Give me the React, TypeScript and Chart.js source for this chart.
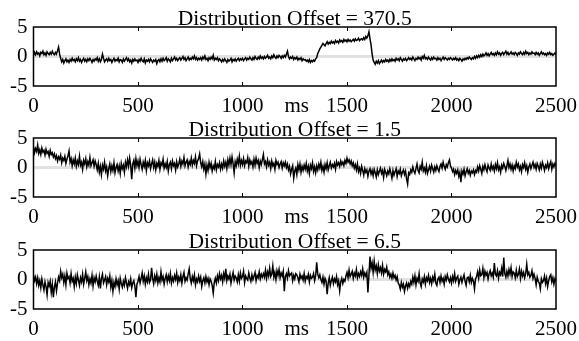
import React, { useEffect, useRef } from "react";
import { Chart, registerables } from "chart.js";

Chart.register(...registerables);

// ---- data ----
const X_TICKS = [0, 500, 1000, 1500, 2000, 2500];
const Y_TICKS = [-5, 0, 5];
const X_UNIT = "ms";
const TITLES = [
  "Distribution Offset = 370.5",
  "Distribution Offset = 1.5",
  "Distribution Offset = 6.5",
];
// sample spacing (ms) of the series below
const STEP_MS = 5;

const SERIES_OFFSET_370 = [
  0.2, 0.7, 0.3, 0.8, 0.4, 0.6, 0.1, 0.7, 0.5, 0.9, 0.3, 0.6, 0.2, 0.8, 0.5, 0.3, 0.7, 0.4, 0.9, 0.5,
  0.3, 0.7, 0.4, 1.0, 1.6, 0.4, -0.3, -0.9, -0.5, -1.1, -0.7, -0.4, -0.9, -0.6, -1.0, -0.5, -0.8, -0.3, -0.7, -0.5,
  -0.9, -0.4, -0.7, -0.2, -0.8, -0.5, -1.0, -0.6, -0.3, -0.8, -0.5, -0.9, -0.4, -0.7, -0.3, -0.6, -1.0, -0.5, -0.8, -0.4,
  -0.6, -0.2, -0.8, -0.4, -0.9, -0.5, 0.4, -0.3, -0.9, -0.6, -0.4, -0.8, -0.3, -0.7, -0.5, -1.0, -0.6, -0.3, -0.8, -0.5,
  -0.7, -0.3, -0.9, -0.5, -0.6, -1.0, -0.4, -0.8, -0.5, -0.2, -0.7, -0.4, -0.9, -0.6, -1.1, -0.5, -0.8, -0.4, -0.7, -0.6,
  -1.0, -0.5, -0.8, -0.3, -0.7, -0.9, -0.4, -1.1, -0.6, -0.8, -0.5, -0.9, -0.4, -0.7, -1.0, -0.6, -0.8, -0.5, -1.2, -0.7,
  -0.5, -0.9, -0.4, -0.8, -0.3, -0.7, -0.5, -0.2, -0.8, -0.4, -0.6, -0.9, -0.3, -0.7, -0.4, -0.1, -0.6, -0.3, -0.7, -0.4,
  -0.2, -0.6, -0.3, 0.0, -0.5, -0.2, -0.7, -0.4, -0.1, -0.6, -0.3, -0.5, -0.1, -0.4, 0.1, -0.5, -0.2, -0.6, -0.3, -0.5,
  -0.2, -0.6, -0.1, -0.4, 0.1, -0.5, -0.3, -0.7, -0.2, -0.5, -0.1, -0.4, 0.2, -0.6, -0.3, -0.5, -0.2, -0.7, -0.4, -0.6,
  -0.9, -0.5, -0.8, -0.4, -0.7, -1.0, -0.5, -0.8, -0.6, -0.3, -0.9, -0.5, -0.7, -0.4, -0.8, -0.5, -0.3, -0.7, -0.4, -0.6,
  -0.3, -0.7, -0.4, -0.2, -0.6, -0.3, -0.5, -0.1, -0.4, -0.6, -0.2, -0.5, 0.0, -0.3, -0.5, -0.1, -0.4, 0.1, -0.3, -0.1,
  -0.4, 0.0, -0.3, -0.1, 0.2, -0.3, -0.1, -0.4, 0.1, -0.2, 0.3, -0.1, -0.3, 0.1, -0.2, 0.2, 0.0, -0.3, 0.1, -0.2,
  0.2, -0.1, 0.4, 0.9, 0.0, -0.4, -0.1, -0.3, 0.0, -0.5, -0.2, -0.4, -0.1, -0.6, -0.3, -0.5, -0.2, -0.7, -0.4, -0.6,
  -0.5, -0.8, -0.6, -0.9, -0.5, -1.0, -0.7, -0.9, -0.6, -0.8, -0.4, -0.2, 0.5, 0.9, 1.3, 1.6, 1.9, 2.2, 2.0, 1.8,
  2.2, 2.5, 2.1, 2.4, 2.2, 2.6, 2.3, 2.5, 2.2, 2.7, 2.4, 2.6, 2.3, 2.8, 2.5, 2.7, 2.4, 2.9, 2.6, 2.8,
  2.5, 2.9, 2.6, 2.8, 2.5, 2.7, 2.9, 2.6, 3.0, 2.7, 2.8, 3.1, 2.7, 2.9, 3.0, 2.8, 3.2, 2.9, 3.4, 3.1,
  3.5, 4.2, 3.0, 2.0, 0.5, -0.6, -1.0, -1.3, -0.8, -1.1, -0.7, -1.2, -0.9, -0.6, -1.0, -0.7, -0.9, -0.5, -0.8, -0.6,
  -0.9, -0.5, -0.8, -0.4, -0.7, -0.5, -0.8, -0.3, -0.6, -0.4, -0.7, -0.2, -0.5, -0.8, -0.4, -0.6, -0.3, -0.7, -0.5, -0.2,
  -0.5, -0.3, -0.6, -0.1, -0.4, -0.7, -0.3, -0.5, -0.1, -0.4, -0.2, -0.6, 0.0, -0.3, 0.2, -0.4, -0.2, -0.5, -0.1, -0.4,
  -0.6, -0.2, -0.5, -0.1, -0.4, -0.3, -0.6, -0.2, -0.5, -0.3, -0.7, -0.4, -0.1, -0.5, -0.2, -0.4, -0.6, -0.3, -0.5, -0.2,
  -0.4, -0.6, -0.3, -0.5, -0.2, -0.6, -0.4, -0.7, -0.3, -0.5, -0.8, -0.4, -0.6, -0.3, -0.5, -0.2, -0.4, -0.1, -0.3, -0.5,
  -0.2, -0.4, 0.0, -0.3, 0.1, -0.2, 0.2, -0.1, 0.3, 0.0, 0.4, 0.1, 0.3, 0.6, 0.2, 0.5, 0.1, 0.4, 0.7, 0.3,
  0.5, 0.2, 0.6, 0.3, 0.8, 0.4, 0.6, 0.2, 0.5, 0.7, 0.3, 0.6, 0.9, 0.4, 0.7, 0.3, 0.5, 0.8, 0.4, 0.6,
  0.3, 0.7, 0.5, 0.2, 0.6, 0.4, 0.8, 0.5, 0.3, 0.7, 0.4, 0.9, 0.5, 0.7, 0.3, 0.6, 0.4, 0.8, 0.5, 0.6,
  0.3, 0.7, 0.4, 0.6, 0.2, 0.5, 0.8, 0.4, 0.6, 0.3, 0.5, 0.2, 0.6, 0.4, 0.7, 0.3, 0.5, 0.2, 0.4, 0.6,
  0.3,
];

const SERIES_OFFSET_1_5 = [
  3.6, 2.5, 3.2, 2.7, 3.8, 2.4, 3.0, 2.2, 3.3, 2.6, 2.9, 2.1, 3.1, 2.4, 2.7, 1.9, 2.9, 2.2, 2.5, 1.8,
  2.3, 1.5, 2.0, 1.1, 1.8, 1.4, 2.1, 0.8, 1.6, 1.2, 1.9, 0.7, 1.4, 2.0, 2.8, 0.9, 1.5, 0.3, 1.3, 0.6,
  1.6, 0.2, 1.1, 0.5, 1.9, 0.4, 0.9, -0.3, 1.2, 0.6, 1.5, 0.1, 1.0, 0.4, 1.7, 0.3, 0.8, 1.3, 0.2, 1.1,
  0.5, -0.4, 0.7, -0.8, 0.2, -1.2, 0.4, -0.3, 0.9, -0.6, 0.1, -1.4, -0.2, 0.6, -0.7, 0.3, -0.5, 0.8, -0.9, 0.0,
  0.5, -0.6, 0.3, -1.0, 0.7, -0.2, 0.4, -0.8, 0.9, 0.1, 1.3, 0.2, 1.6, 0.4, -2.0, 0.6, 1.2, -0.1, 1.5, 0.3,
  1.1, 0.0, 1.4, 0.5, -0.3, 0.9, 0.2, 1.2, -0.5, 0.8, 0.3, 1.1, -0.2, 0.6, 1.3, 0.0, 0.9, -0.4, 0.7, 0.2,
  1.2, -0.3, 0.8, 0.4, 1.4, -0.1, 0.6, 0.0, 1.0, -0.6, 0.5, 0.9, -0.2, 1.1, 0.3, 0.7, -0.4, 1.0, 0.1, 0.6,
  1.4, 0.2, 1.1, 0.6, 1.7, 0.3, 0.9, 1.3, 0.1, 1.0, 0.5, 1.6, 0.4, 1.2, 0.7, 1.8, 0.3, 1.1, 1.5, 2.3,
  0.8, 0.1, 1.0, -0.3, 0.6, -1.1, 0.4, -0.5, 0.9, 0.0, 0.7, -0.6, 0.3, -0.2, 1.0, -0.4, 0.5, 0.1, 0.8, -0.3,
  0.6, -0.1, 1.1, 0.2, 0.9, -0.2, 1.3, 0.4, 1.6, 0.5, 1.8, 0.7, -0.9, 1.0, 0.3, 1.4, 0.6, 1.9, 0.4, 1.2,
  0.5, 1.5, 0.3, 1.1, 0.8, 1.7, 0.2, 1.3, 0.6, 1.0, 0.1, 1.4, 0.4, 1.6, 0.7, 1.2, 0.0, 1.1, 0.5, 1.3,
  2.2, 0.6, 1.0, 0.1, 1.3, 0.4, 0.9, -0.2, 1.1, 0.3, 0.7, -0.3, 1.2, 0.5, 0.9, 0.0, 0.6, 1.0, -0.1, 0.8,
  0.3, 0.9, 0.0, 0.6, -0.4, 0.2, -1.1, -0.3, 0.3, -1.8, -0.6, -0.1, -1.2, 0.5, -0.4, 0.6, -0.8, 0.2, -0.5, 0.4,
  -0.3, 0.7, -0.6, 0.2, -1.0, 0.4, -0.2, 0.8, -0.7, 0.1, -0.9, 0.3, -0.4, 0.6, -0.1, 0.9, -0.5, 0.2, -0.8, 0.5,
  -0.2, 0.8, -0.4, 0.3, 0.9, -0.1, 0.5, 0.1, 0.7, -0.3, 1.0, 0.4, 0.8, 0.2, 1.1, 0.5, 0.9, 0.3, 1.2, 0.7,
  1.6, 0.9, 1.3, 0.6, 1.1, 0.3, 0.8, -0.1, 0.5, -0.4, 0.6, -0.7, -0.1, -1.0, 0.2, -0.5, -1.3, -0.2, -0.8, -0.4,
  -1.5, -0.6, -0.2, -1.1, -0.5, -1.4, -0.3, -0.9, -1.6, -0.4, -1.2, -0.6, -0.1, -1.0, -0.5, -1.7, -0.3, -0.8, -1.4, -0.6,
  -1.1, -0.2, -0.9, -1.8, -0.5, -1.3, -0.7, -0.2, -1.5, -0.6, -1.0, -0.3, -1.4, -0.8, -0.4, -1.2, -0.6, -1.9, -2.8, -0.9,
  -1.2, -0.4, -0.8, 0.1, -0.6, -1.0, -0.2, 0.6, -0.5, -0.9, 0.2, -0.3, 0.9, -0.6, -0.1, -0.8, 0.3, -1.0, -0.4, 0.2,
  -0.6, 0.4, -0.2, -0.8, 0.1, -0.5, 0.3, -0.3, -0.7, 0.2, 0.6, -0.1, 0.9, 0.2, -0.3, 0.5, 0.1, 0.8, 1.3, 0.3,
  -0.1, -0.7, -0.3, -1.2, -0.5, -1.0, -0.4, -1.5, -0.8, -2.5, -0.6, -1.1, -0.3, -1.4, -0.7, -0.2, -1.0, -0.5, -1.3, -0.6,
  -0.9, -0.4, -1.2, -0.5, -0.8, 0.1, -0.6, 0.3, -0.3, -1.0, 0.2, -0.4, 0.5, -0.2, -0.7, 0.4, -0.1, -0.5, 0.6, -0.3,
  0.2, -0.6, 0.5, -0.2, 0.8, -0.4, 0.1, -0.8, 0.4, -0.1, 0.7, 0.2, -0.5, 0.3, 1.2, 0.0, 0.6, -0.3, 0.4, -0.6,
  0.3, -0.2, 0.9, 0.1, 0.6, -0.4, 0.2, -0.7, 0.5, 0.0, 0.8, -0.3, 0.3, -0.8, 0.1, 0.6, -0.2, 0.4, 0.9, 0.0,
  0.5, -0.3, 0.7, 0.2, -0.4, 0.6, -0.1, 0.9, 0.3, -0.5, 0.4, 0.0, 0.8, -0.2, 0.5, 1.0, -0.3, 0.6, 0.1, 0.7,
  0.3,
];

const SERIES_OFFSET_6_5 = [
  0.8, -0.2, 0.4, -0.7, 0.3, -1.0, -0.2, -1.4, 0.1, -0.9, -1.8, -0.4, -1.2, -2.6, -0.5, -1.1, -0.3, -2.2, -0.8, -3.0,
  -1.3, -0.4, -1.9, -0.6, 0.4, -0.2, 1.4, 0.3, 0.9, -0.5, 0.6, -0.9, 1.1, 0.2, 0.5, -0.6, 1.0, -0.3, 0.2, -1.2,
  0.4, -0.7, 0.8, -0.1, -1.0, 0.3, -0.4, 0.9, -0.8, 0.2, 1.3, -0.2, 0.5, -0.9, 0.1, -0.6, 0.7, -1.1, 0.3, -0.4,
  0.6, -0.3, -1.0, 0.4, -1.5, 0.2, 0.9, -0.6, -0.1, 0.5, -0.9, 0.2, -0.4, 0.6, -1.3, -0.2, -2.0, -0.5, -1.2, 0.1,
  -0.9, -0.2, -1.6, 0.2, -0.7, -1.3, -0.3, -1.0, 0.3, -0.6, -1.5, -0.4, -0.9, 0.1, -1.4, -0.6, -0.2, -1.1, -3.0, -0.8,
  -0.3, 0.5, -0.6, 0.2, 1.1, -0.3, 0.6, -0.8, 0.3, -0.4, 0.9, -0.5, -0.1, 2.0, 0.2, -0.7, 0.6, -0.2, 0.9, -0.6,
  0.3, -0.4, 1.3, -0.1, 0.5, -0.8, 0.2, 0.8, -0.4, 0.6, -0.2, 1.0, -0.6, 0.3, -0.3, 0.7, 0.0, 1.1, -0.5, 0.4,
  -0.2, 0.8, -0.6, 0.5, 1.2, -0.3, 0.3, -0.1, 0.9, 1.8, 0.2, -0.6, 0.5, -0.2, 0.8, -0.9, 0.1, -0.4, 0.6, -0.3,
  0.4, -1.2, -0.2, 0.3, -0.6, 0.5, -0.4, 0.2, -0.9, 0.1, -0.3, -1.0, -2.3, -0.5, 0.2, -0.6, 0.6, -0.2, 1.0, 0.1,
  0.7, -0.4, 1.0, 0.2, 1.8, -0.2, 0.6, 0.1, 0.9, -0.6, 0.4, 1.2, -0.1, 0.6, 0.3, -0.4, 0.8, -0.3, 1.1, 0.2,
  0.5, 1.4, -0.5, 0.6, 0.2, -0.1, 1.1, 0.3, -0.3, 0.8, 0.0, 0.6, 1.2, -0.2, 0.7, 0.3, 1.3, 0.1, 0.9, 0.4,
  1.0, 0.4, 1.6, 0.2, 1.3, 0.6, 1.9, 0.5, 0.9, 2.3, 0.4, 1.2, 0.0, 1.5, 0.7, 1.7, 0.3, 1.1, 0.6, 1.4,
  -2.0, 0.5, 1.0, 0.2, 1.5, 0.6, 0.9, 1.1, -0.2, 0.7, 0.1, 1.0, 0.8, 0.3, -0.4, 0.9, 0.2, 0.6, -0.1, 1.0,
  -0.3, 0.5, 0.2, 0.9, -0.4, 0.7, 0.2, 0.4, 1.0, -0.2, 0.6, 2.9, 0.9, 0.3, 0.8, 0.0, -0.5, 0.4, -0.8, 0.2,
  -0.3, -2.5, -0.6, 0.3, -1.0, -0.2, 0.4, -0.7, 0.1, -0.4, 0.5, -0.9, -0.2, -1.9, -0.4, 0.2, -0.7, 0.0, -0.3, 0.6,
  1.2, 0.3, 1.6, 0.5, 0.9, 1.4, 0.2, 1.1, 0.6, 1.7, 0.3, 1.0, 0.5, 1.3, 0.7, 1.8, 0.4, 1.1, 0.6, 1.2,
  -2.2, 0.8, 3.9, 1.9, 2.8, 1.2, 3.1, 1.6, 2.3, 1.0, 2.5, 1.4, 2.0, 1.1, 2.4, 0.9, 1.7, 1.3, 2.1, 0.8,
  1.3, 0.4, 0.9, 0.2, 1.1, 0.3, 0.7, -0.1, 0.5, -0.6, -0.9, -1.6, -0.5, -1.3, -0.8, -2.0, -1.1, -0.6, -1.5, -0.7,
  -1.2, -0.3, -0.8, 0.4, -0.5, 0.6, -0.9, 0.2, -0.3, 1.0, -0.6, -1.2, 0.1, -0.4, 0.5, -0.8, 0.3, -0.2, 0.7, -0.5,
  0.2, -0.7, 0.4, -0.2, 0.9, -0.6, -1.0, 0.1, 0.4, -0.5, 0.6, -0.3, 0.2, -0.8, 0.5, -0.1, 0.8, 0.1, -0.4, 0.3,
  -0.6, 0.5, -0.2, 1.0, -0.3, 0.3, 0.6, -0.8, -0.1, 0.4, -0.5, 0.2, 0.8, -0.3, -1.0, 0.3, 0.4, -0.4, 0.7, -0.5,
  0.2, -0.3, -1.6, 0.1, 0.5, 1.3, 0.2, 1.6, 0.6, 0.8, 1.9, 0.3, 1.4, 0.7, 1.2, 0.1, 1.0, 1.5, 0.6, 1.1,
  0.4, 2.8, 0.9, 0.6, 1.5, 0.2, 1.2, 0.8, 1.9, 0.5, 3.7, 1.0, 0.4, 1.4, 0.6, 1.7, 0.9, 2.0, 0.5, 1.3,
  1.1, 0.3, 1.6, 0.5, 0.9, 1.8, 0.2, 1.4, 0.6, 1.2, 0.3, 1.0, 2.6, 0.8, 1.2, 0.4, 0.7, 1.5, 0.2, 0.9,
  0.2, -0.9, 0.4, -0.3, -0.6, -1.6, 0.1, -0.5, -0.2, 0.6, -0.7, 0.2, -1.2, -0.2, 0.5, 0.8, -0.4, 0.3, -0.8, 0.1,
  -0.4,
];

const SERIES = [SERIES_OFFSET_370, SERIES_OFFSET_1_5, SERIES_OFFSET_6_5];

// ---- styling ----
const FONT_FAMILY = '"Liberation Serif", "Times New Roman", serif';
const FONT_SIZE = 21;
const TITLE_SIZE = 21.5;
const X_LABEL_LINE_PX = 36; // tall line box pushes x labels down without widening the side padding
const X_LABEL_PAD = 2;
const CANVAS_W = 579;
const CANVAS_H = 126;
const PANEL_TOPS = [0, 111, 223];

const framePlugin = {
  id: "matlabFrame",
  beforeDatasetsDraw(chart: any) {
    const { ctx, chartArea: a, scales } = chart;
    const y0 = scales.y.getPixelForValue(0);
    ctx.save();
    ctx.strokeStyle = "#c4c4c4";
    ctx.lineWidth = 3;
    ctx.setLineDash([1, 1]);
    ctx.beginPath();
    ctx.moveTo(a.left, y0);
    ctx.lineTo(a.right, y0);
    ctx.stroke();
    ctx.restore();
  },
  afterDraw(chart: any) {
    const { ctx, chartArea: a, scales } = chart;
    const x = scales.x;
    ctx.save();
    ctx.strokeStyle = "#000";
    ctx.lineWidth = 1.5;
    ctx.strokeRect(a.left, a.top, a.right - a.left, a.bottom - a.top);
    ctx.lineWidth = 1;
    x.ticks.forEach((t: any) => {
      if (t.value > x.min && t.value < x.max) {
        const px = Math.round(x.getPixelForValue(t.value)) + 0.5;
        ctx.beginPath();
        ctx.moveTo(px, a.bottom);
        ctx.lineTo(px, a.bottom - 4);
        ctx.moveTo(px, a.top);
        ctx.lineTo(px, a.top + 4);
        ctx.stroke();
      }
    });
    ctx.font = `${FONT_SIZE}px ${FONT_FAMILY}`;
    ctx.fillStyle = "#000";
    ctx.textAlign = "center";
    ctx.textBaseline = "middle";
    ctx.fillText(X_UNIT, (a.left + a.right) / 2 + 2, a.bottom + X_LABEL_PAD + X_LABEL_LINE_PX / 2);
    ctx.restore();
  },
};

function Panel({ values, title, top }: { values: number[]; title: string; top: number }) {
  const ref = useRef<HTMLCanvasElement>(null);
  useEffect(() => {
    if (!ref.current) return;
    const data = values.map((v, i) => ({ x: i * STEP_MS, y: v }));
    const chart = new Chart(ref.current, {
      type: "line",
      data: {
        datasets: [
          {
            data,
            borderColor: "#000",
            borderWidth: 1.5,
            pointRadius: 0,
            fill: false,
            tension: 0,
          },
        ],
      },
      plugins: [framePlugin],
      options: {
        animation: false,
        responsive: false,
        devicePixelRatio: 1,
        layout: { padding: { left: 4, right: 18, top: 0, bottom: 0 } },
        plugins: {
          legend: { display: false },
          tooltip: { enabled: false },
          title: {
            display: true,
            text: title,
            color: "#000",
            fullSize: false,
            font: { family: FONT_FAMILY, size: TITLE_SIZE, weight: "normal", lineHeight: 1 },
            padding: { top: 9, bottom: -3.5 },
          },
        },
        scales: {
          x: {
            type: "linear",
            min: X_TICKS[0],
            max: X_TICKS[X_TICKS.length - 1],
            afterBuildTicks: (s: any) => {
              s.ticks = X_TICKS.map((v) => ({ value: v }));
            },
            grid: { display: false, drawTicks: false },
            border: { display: false },
            ticks: {
              color: "#000",
              font: { family: FONT_FAMILY, size: FONT_SIZE, weight: "normal", lineHeight: X_LABEL_LINE_PX / FONT_SIZE },
              padding: X_LABEL_PAD,
              maxRotation: 0,
              autoSkip: false,
              callback: (v: any) => String(v),
            },
          },
          y: {
            type: "linear",
            min: Y_TICKS[0],
            max: Y_TICKS[Y_TICKS.length - 1],
            afterBuildTicks: (s: any) => {
              s.ticks = Y_TICKS.map((v) => ({ value: v }));
            },
            grid: { display: false, drawTicks: false },
            border: { display: false },
            ticks: {
              color: "#000",
              font: { family: FONT_FAMILY, size: FONT_SIZE, weight: "normal", lineHeight: 1 },
              padding: 6,
              autoSkip: false,
              callback: (v: any) => String(v),
            },
          },
        },
      },
    } as any);
    return () => chart.destroy();
  }, [values, title]);
  return (
    <canvas
      ref={ref}
      width={CANVAS_W}
      height={CANVAS_H}
      style={{ position: "absolute", left: 0, top, width: CANVAS_W, height: CANVAS_H, display: "block" }}
    />
  );
}

export default function App() {
  return (
    <div
      style={{
        position: "absolute",
        left: 0,
        top: 0,
        width: CANVAS_W,
        height: 341,
        background: "#fff",
        overflow: "hidden",
      }}
    >
      {SERIES.map((s, i) => (
        <Panel key={i} values={s} title={TITLES[i]} top={PANEL_TOPS[i]} />
      ))}
    </div>
  );
}
